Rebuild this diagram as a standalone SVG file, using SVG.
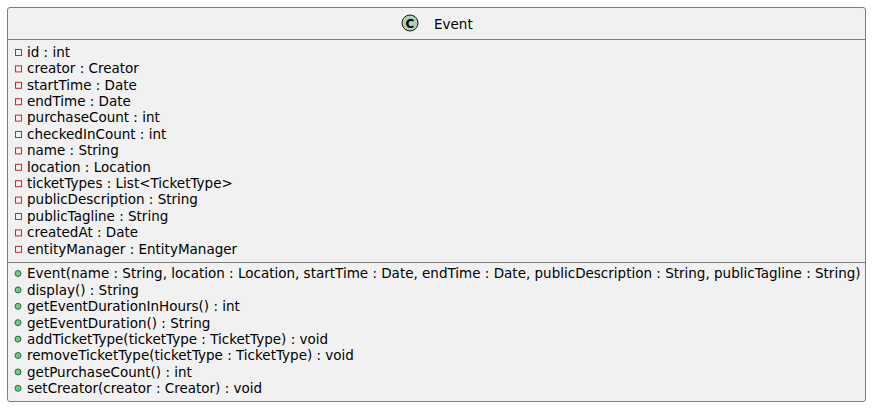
<svg xmlns="http://www.w3.org/2000/svg" width="879" height="414" viewBox="0 0 879 414">
<style>
.box{fill:#F1F1F1;stroke:#7d7d7d;stroke-width:1}
.sep{stroke:#7d7d7d;stroke-width:1}
.t{font-family:"DejaVu Sans","Liberation Sans",sans-serif;font-size:13.5px;fill:#000}
.priv{fill:none;stroke:#C82930;stroke-width:1}
.pub{fill:#84BE84;stroke:#038048;stroke-width:1}
</style>
<rect width="879" height="414" fill="#FFFFFF"/>
<g id="Event">
<rect class="box" x="7.5" y="7.5" width="858" height="394" rx="2.5"/>
<line class="sep" x1="7.5" y1="39.5" x2="865.5" y2="39.5"/>
<line class="sep" x1="7.5" y1="262.5" x2="865.5" y2="262.5"/>
<circle cx="410" cy="23" r="8" fill="#ADD1B2" stroke="#181818" stroke-width="1"/>
<text x="410" y="27.5" text-anchor="middle" style="font-family:'DejaVu Sans','Liberation Sans',sans-serif;font-size:12px;font-weight:bold">C</text>
<text class="t" x="434" y="28.5">Event</text>
<g>
<rect class="priv" x="15.5" y="49.5" width="6" height="6"/><text class="t" x="27" y="56.8">id : int</text>
<rect class="priv" x="15.5" y="65.9" width="6" height="6"/><text class="t" x="27" y="73.2">creator : Creator</text>
<rect class="priv" x="15.5" y="82.3" width="6" height="6"/><text class="t" x="27" y="89.6">startTime : Date</text>
<rect class="priv" x="15.5" y="98.7" width="6" height="6"/><text class="t" x="27" y="106">endTime : Date</text>
<rect class="priv" x="15.5" y="115.1" width="6" height="6"/><text class="t" x="27" y="122.4">purchaseCount : int</text>
<rect class="priv" x="15.5" y="131.5" width="6" height="6"/><text class="t" x="27" y="138.8">checkedInCount : int</text>
<rect class="priv" x="15.5" y="147.9" width="6" height="6"/><text class="t" x="27" y="155.2">name : String</text>
<rect class="priv" x="15.5" y="164.3" width="6" height="6"/><text class="t" x="27" y="171.6">location : Location</text>
<rect class="priv" x="15.5" y="180.7" width="6" height="6"/><text class="t" x="27" y="188">ticketTypes : List&lt;TicketType&gt;</text>
<rect class="priv" x="15.5" y="197.1" width="6" height="6"/><text class="t" x="27" y="204.4">publicDescription : String</text>
<rect class="priv" x="15.5" y="213.5" width="6" height="6"/><text class="t" x="27" y="220.8">publicTagline : String</text>
<rect class="priv" x="15.5" y="229.9" width="6" height="6"/><text class="t" x="27" y="237.2">createdAt : Date</text>
<rect class="priv" x="15.5" y="246.3" width="6" height="6"/><text class="t" x="27" y="253.6">entityManager : EntityManager</text>
</g>
<g>
<circle class="pub" cx="18" cy="273.5" r="3"/><text class="t" x="27" y="278.3">Event(name : String, location : Location, startTime : Date, endTime : Date, publicDescription : String, publicTagline : String)</text>
<circle class="pub" cx="18" cy="289.9" r="3"/><text class="t" x="27" y="294.7">display() : String</text>
<circle class="pub" cx="18" cy="306.3" r="3"/><text class="t" x="27" y="311.1">getEventDurationInHours() : int</text>
<circle class="pub" cx="18" cy="322.7" r="3"/><text class="t" x="27" y="327.5">getEventDuration() : String</text>
<circle class="pub" cx="18" cy="339.1" r="3"/><text class="t" x="27" y="343.9">addTicketType(ticketType : TicketType) : void</text>
<circle class="pub" cx="18" cy="355.5" r="3"/><text class="t" x="27" y="360.3">removeTicketType(ticketType : TicketType) : void</text>
<circle class="pub" cx="18" cy="371.9" r="3"/><text class="t" x="27" y="376.7">getPurchaseCount() : int</text>
<circle class="pub" cx="18" cy="388.3" r="3"/><text class="t" x="27" y="393.1">setCreator(creator : Creator) : void</text>
</g>
</g>
<g id="connectors"/>
</svg>
